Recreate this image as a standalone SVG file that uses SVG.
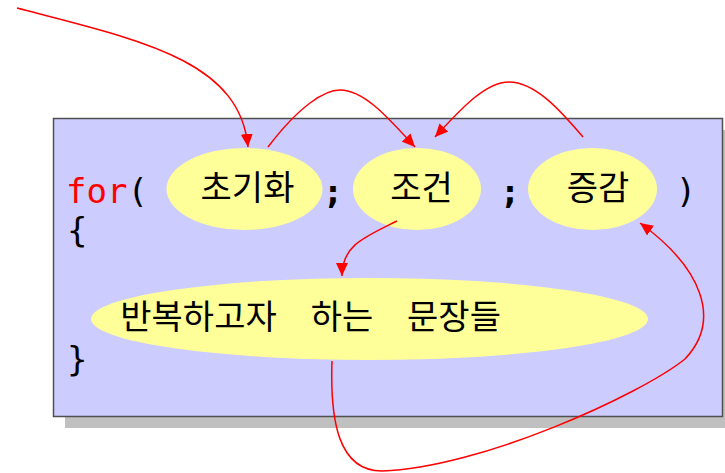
<svg xmlns="http://www.w3.org/2000/svg" width="725" height="473" viewBox="0 0 725 473">
<style>
.ell{fill:#ffff99;}
.ko{font-family:"Noto Sans CJK KR","Noto Sans",sans-serif;font-size:34px;fill:#000;text-anchor:middle;}
.code{font-family:"DejaVu Sans Mono","Liberation Mono",monospace;font-size:34px;fill:#000;}
.conn{fill:none;stroke:#ff0000;stroke-width:1.5;}
</style>
<defs>
<marker id="ah" markerUnits="userSpaceOnUse" markerWidth="14" markerHeight="12" refX="13" refY="6" orient="auto">
<path d="M0,0 L13,6 L0,12 Z" fill="#ff0000"/>
</marker>
</defs>
<g id="box">
<rect x="65" y="130" width="662" height="298" fill="#c0c0c0"/>
<rect x="53.5" y="118.5" width="669" height="298" fill="#ccccff" stroke="#505050" stroke-width="1.5"/>
</g>
<g id="code">
<text class="code" x="66" y="203"><tspan fill="#ff0000">for</tspan>(</text>
<text class="code" x="333" y="203" text-anchor="middle" font-weight="bold">;</text>
<text class="code" x="510" y="203" text-anchor="middle" font-weight="bold">;</text>
<text class="code" x="686" y="203" text-anchor="middle">)</text>
<text class="code" x="67" y="242">{</text>
<text class="code" x="67" y="371">}</text>
</g>
<g id="init">
<ellipse class="ell" cx="244.5" cy="189" rx="78" ry="41"/>
<text class="ko" x="247.5" y="200">초기화</text>
</g>
<g id="cond">
<ellipse class="ell" cx="417" cy="189" rx="64" ry="41"/>
<text class="ko" x="421.5" y="200">조건</text>
</g>
<g id="incr">
<ellipse class="ell" cx="592.5" cy="189" rx="64.5" ry="41"/>
<text class="ko" x="598" y="200">증감</text>
</g>
<g id="body">
<ellipse class="ell" cx="369.5" cy="319" rx="278.5" ry="41"/>
<text class="ko" x="198.5" y="329">반복하고자</text>
<text class="ko" x="342" y="329">하는</text>
<text class="ko" x="454" y="329">문장들</text>
</g>
<g id="connectors">
<path class="conn" marker-end="url(#ah)" d="M17,8 C140,40 240,60 248,147"/>
<path class="conn" marker-end="url(#ah)" d="M268,147 C300,105 325,90 340,90 C365,90 390,120 415,147"/>
<path class="conn" marker-end="url(#ah)" d="M583,137 C560,110 535,82 509,82 C485,82 460,110 435,137"/>
<path class="conn" marker-end="url(#ah)" d="M397,221 C365,237 342,245 342,276"/>
<path class="conn" marker-end="url(#ah)" d="M332,361 C330,420 338,471 382,471 C480,468 640,395 685,359 C722,320 702,268 640,223"/>
</g>
</svg>
